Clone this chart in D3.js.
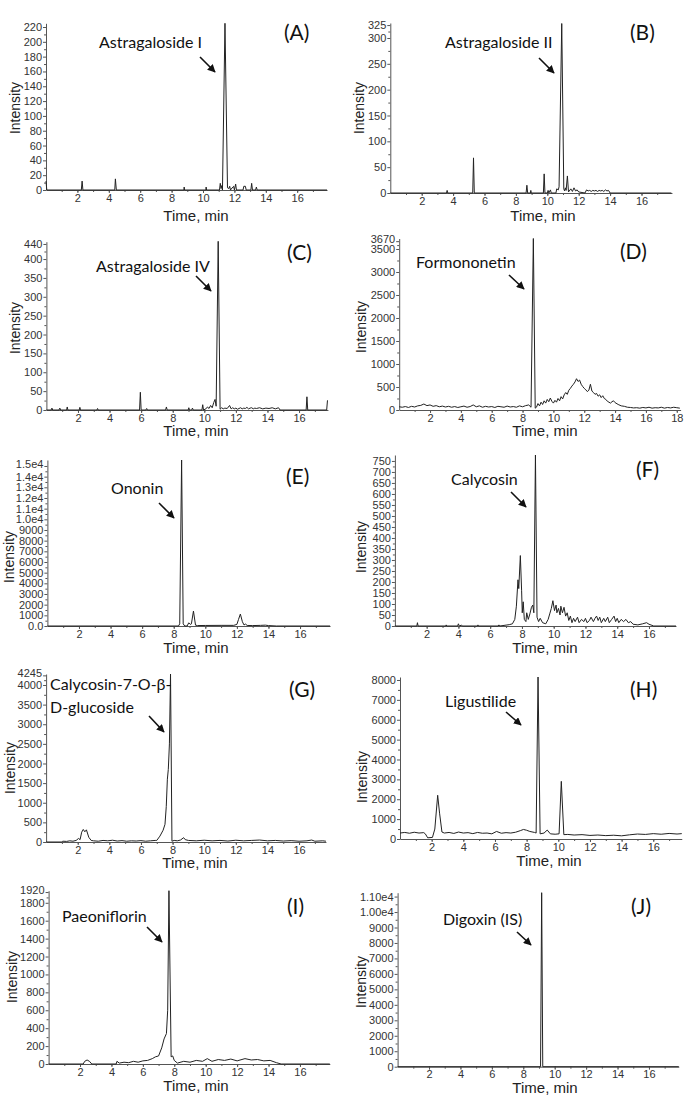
<!DOCTYPE html>
<html>
<head>
<meta charset="utf-8">
<script src="https://cdn.jsdelivr.net/npm/d3@7/dist/d3.min.js"></script>
<style>
  body { margin: 0; background: #fff; }
  .tick text { font-family: "Liberation Sans", Arial, sans-serif; font-size: 11px; fill: #333; }
  .domain, .tick line { stroke: #555; }
</style>
</head>
<body>
<script>
// chromatogram traces: [time (min), intensity]
var traceA = [[0,12],[0.05,0],[2.25,0],[2.3,12],[2.35,0],[4.38,0],[4.42,15],[4.48,0],[8.78,0],[8.8,4],[8.83,0],
  [10.18,0],[10.2,4],[10.23,0],[11.05,0],[11.1,9],[11.15,2],[11.2,6],[11.24,0],[11.4,225],[11.56,3],[11.65,2],
  [11.7,5],[11.75,0],[11.9,4],[11.95,5],[12.0,0],[12.08,8],[12.13,0],[12.55,0],[12.6,5],[12.7,5],[12.75,0],
  [13.05,0],[13.1,9],[13.15,0],[13.35,0],[13.4,4],[13.45,0],[17.9,0]];
var traceB = [[0,0],[3.58,0],[3.62,5],[3.66,0],[5.25,0],[5.3,68],[5.35,0],[8.65,0],[8.7,15],[8.75,0],[8.92,0],
  [8.95,5],[8.98,0],[9.75,0],[9.8,37],[9.85,0],[10.0,0],[10.05,5],[10.1,0],[10.2,6],[10.25,0],[10.55,0],[10.6,8],
  [10.7,6],[10.75,12],[10.92,328],[11.05,8],[11.1,4],[11.15,10],[11.2,5],[11.28,33],[11.35,2],[11.5,8],[11.6,3],
  [11.7,10],[11.8,4],[11.9,6],[12.0,2],[12.4,0],[12.5,6],[12.6,4],[12.7,5],[12.8,3],[12.9,5],[13.0,4],[13.1,5],
  [13.2,3],[13.3,5],[13.4,4],[13.5,5],[13.6,3],[13.7,6],[13.8,4],[13.9,5],[14.0,0],[17.9,0]];
var traceC = [[0,0],[0.3,0],[0.35,5],[0.4,0],[0.8,0],[0.85,5],[0.9,0],[1.28,0],[1.32,8],[1.36,0],[2.08,0],[2.12,7],
  [2.16,0],[3.2,0],[3.24,4],[3.28,0],[5.9,0],[5.95,47],[6.0,0],[6.3,0],[6.35,4],[6.4,0],[7.55,0],[7.6,8],[7.65,0],
  [8.98,0],[9.02,6],[9.06,0],[9.2,0],[9.25,5],[9.3,0],[9.85,0],[9.9,14],[9.95,0],[10.1,3],[10.2,8],[10.3,4],
  [10.4,12],[10.5,6],[10.6,20],[10.68,28],[10.75,10],[10.88,447],[11.0,2],[11.1,6],[11.2,3],[11.3,5],[11.45,4],
  [11.6,12],[11.7,3],[11.8,6],[11.9,3],[12.0,5],[12.1,2],[12.3,6],[12.4,3],[12.5,5],[12.6,4],[12.7,7],[12.8,3],
  [12.9,5],[13.0,6],[13.1,3],[13.2,5],[13.3,4],[13.5,6],[13.7,3],[13.9,5],[14.1,4],[14.3,6],[14.5,3],[14.7,6],
  [14.8,0],[16.45,0],[16.5,35],[16.55,0],[17.75,0],[17.8,25],[17.83,25]];
var traceD = [[0,70],[0.2,60],[0.4,75],[0.6,55],[0.8,80],[1.0,65],[1.2,90],[1.4,100],[1.6,130],[1.8,95],[2.0,110],
  [2.2,80],[2.4,95],[2.6,70],[2.8,85],[3.0,65],[3.2,80],[3.4,60],[3.6,75],[3.8,55],[4.0,70],[4.2,85],[4.4,60],
  [4.6,75],[4.8,110],[5.0,70],[5.2,90],[5.4,60],[5.6,80],[5.8,65],[6.0,75],[6.2,55],[6.4,80],[6.6,70],[6.8,60],
  [7.0,85],[7.2,65],[7.4,75],[7.6,60],[7.8,90],[8.0,70],[8.2,95],[8.4,110],[8.55,60],[8.7,3728],[8.82,40],[8.9,60],
  [9.0,140],[9.1,90],[9.2,170],[9.3,120],[9.4,200],[9.5,150],[9.6,230],[9.7,180],[9.8,260],[9.9,190],[10.0,150],
  [10.1,210],[10.2,170],[10.3,250],[10.4,200],[10.5,290],[10.6,240],[10.7,330],[10.8,380],[10.9,340],[11.0,430],
  [11.1,470],[11.2,520],[11.3,560],[11.4,610],[11.5,680],[11.6,620],[11.7,650],[11.8,560],[11.9,510],[12.0,470],
  [12.1,440],[12.2,400],[12.3,430],[12.4,560],[12.5,410],[12.6,380],[12.7,340],[12.8,360],[12.9,300],[13.0,330],
  [13.1,270],[13.2,310],[13.3,250],[13.4,230],[13.5,190],[13.6,170],[13.7,150],[13.8,180],[13.9,200],[14.0,160],
  [14.2,120],[14.4,90],[14.6,80],[14.8,60],[15.0,55],[15.2,45],[15.4,50],[15.6,40],[15.8,55],[16.0,45],[16.2,60],
  [16.4,40],[16.6,50],[16.8,45],[17.0,60],[17.2,40],[17.4,55],[17.6,45],[17.8,60],[18.0,50],[18.2,40]];
var traceE = [[0,0],[8.3,0],[8.38,200],[8.5,15560],[8.6,200],[8.7,0],[8.85,0],[8.95,300],[9.05,150],[9.12,200],
  [9.25,1400],[9.38,80],[9.5,40],[10,50],[11,60],[11.8,60],[12.0,150],[12.1,600],[12.22,1120],[12.35,400],
  [12.45,100],[12.55,180],[12.65,50],[13,40],[13.5,60],[13.8,80],[14,40],[14.5,0],[17.9,0]];
var traceF = [[0,0],[1.38,0],[1.42,15],[1.46,0],[3.2,0],[3.23,5],[3.26,0],[3.95,0],[4.0,10],[4.05,0],[4.2,4],[4.25,0],
  [5.2,0],[5.23,5],[5.26,0],[6.5,0],[6.55,5],[6.6,0],[7.0,4],[7.2,6],[7.4,10],[7.55,30],[7.65,90],[7.75,210],
  [7.8,170],[7.9,320],[7.98,160],[8.02,60],[8.08,110],[8.15,30],[8.25,20],[8.3,60],[8.4,30],[8.5,55],[8.6,85],
  [8.68,95],[8.75,60],[8.85,777],[8.95,40],[9.05,20],[9.15,35],[9.3,15],[9.5,10],[9.65,30],[9.75,55],[9.85,80],
  [9.95,115],[10.05,70],[10.15,95],[10.2,60],[10.3,80],[10.4,50],[10.45,90],[10.55,60],[10.65,85],[10.75,45],
  [10.85,60],[10.95,25],[11.05,45],[11.15,15],[11.25,35],[11.35,20],[11.5,40],[11.6,15],[11.75,30],[11.9,20],
  [12.0,35],[12.1,15],[12.25,25],[12.35,40],[12.5,20],[12.6,35],[12.7,45],[12.8,25],[12.9,40],[13.0,15],[13.15,35],
  [13.25,20],[13.4,40],[13.5,15],[13.65,30],[13.8,45],[13.9,20],[14.0,35],[14.1,15],[14.25,30],[14.4,20],[14.55,30],
  [14.7,15],[14.85,20],[15.0,8],[15.3,5],[15.6,10],[15.85,15],[16.0,8],[16.3,0],[17.7,0]];
var traceG = [[0,0],[1.0,0],[1.05,20],[1.3,15],[1.5,30],[1.7,20],[1.9,40],[2.05,90],[2.15,60],[2.25,250],[2.35,320],
  [2.45,260],[2.55,310],[2.7,120],[2.85,40],[3.0,30],[3.3,20],[3.6,40],[3.9,30],[4.2,45],[4.5,25],[4.8,35],[5.1,20],
  [5.4,30],[5.7,25],[6.0,35],[6.3,20],[6.6,30],[6.9,40],[7.0,40],[7.2,150],[7.4,300],[7.52,450],[7.6,900],
  [7.67,1600],[7.73,1850],[7.8,2500],[7.87,4280],[7.96,20],[8.1,40],[8.3,30],[8.5,50],[8.7,110],[8.8,60],[9.0,40],
  [9.5,30],[10.0,45],[10.5,30],[11.0,40],[11.5,25],[12.0,45],[12.5,30],[13.0,40],[13.5,50],[14.0,30],[14.5,40],
  [15.0,25],[15.5,35],[16.0,20],[16.5,30],[16.8,50],[17.0,20],[17.5,30],[17.7,20]];
var traceH = [[0,300],[0.3,330],[0.6,290],[0.9,340],[1.2,300],[1.5,320],[1.6,260],[1.75,60],[2.05,80],[2.2,500],
  [2.38,2200],[2.5,1300],[2.65,350],[2.8,300],[3.1,330],[3.4,280],[3.7,350],[4.0,300],[4.3,320],[4.6,270],[4.9,330],
  [5.2,290],[5.5,300],[5.8,260],[6.1,380],[6.4,290],[6.7,320],[7.0,300],[7.3,340],[7.6,420],[7.8,480],[8.0,440],
  [8.2,380],[8.5,330],[8.6,300],[8.72,8150],[8.85,260],[9.1,300],[9.3,450],[9.5,260],[9.8,240],[10.05,260],
  [10.19,2900],[10.35,220],[10.6,230],[11.0,200],[11.5,220],[12.0,180],[12.5,200],[13.0,170],[13.5,190],[14.0,160],
  [14.5,210],[15.0,250],[15.5,230],[16.0,270],[16.5,240],[17.0,280],[17.5,250],[17.8,270]];
var traceI = [[0,0],[2.2,0],[2.3,30],[2.45,45],[2.6,30],[2.75,0],[4.3,0],[4.35,30],[4.5,10],[4.8,20],[5.1,15],
  [5.4,30],[5.7,20],[6.0,35],[6.3,40],[6.6,60],[6.8,80],[7.0,90],[7.2,180],[7.35,280],[7.5,340],[7.58,600],
  [7.66,1935],[7.8,80],[7.9,90],[8.0,40],[8.2,10],[8.6,30],[9.0,20],[9.4,40],[9.8,30],[10.1,60],[10.4,30],[10.8,50],
  [11.2,40],[11.6,55],[12.0,35],[12.5,60],[12.9,45],[13.3,50],[13.7,35],[14.1,40],[14.5,15],[14.8,0],[17.9,0]];
var traceJ = [[0,0],[9.1,0],[9.17,11250],[9.24,0],[17.9,0]];

// tick values and labels
var yTicksA = [0,20,40,60,80,100,120,140,160,180,200,220];
var yTicksB = [0,50,100,150,200,250,300,325];
var yTicksC = [0,50,100,150,200,250,300,350,400,440];
var yTicksD = [0,500,1000,1500,2000,2500,3000,3500,3670];
var yTicksE = [0,1000,2000,3000,4000,5000,6000,7000,8000,9000,10000,11000,12000,13000,14000,15000];
var yLabelsE = ["0.0","1000","2000","3000","4000","5000","6000","7000","8000","9000",
                "1.0e4","1.1e4","1.2e4","1.3e4","1.4e4","1.5e4"];
var yTicksF = [0,50,100,150,200,250,300,350,400,450,500,550,600,650,700,750];
var yTicksG = [0,500,1000,1500,2000,2500,3000,3500,4000,4245];
var yTicksH = [0,1000,2000,3000,4000,5000,6000,7000,8000];
var yTicksI = [0,200,400,600,800,1000,1200,1400,1600,1800,1920];
var yTicksJ = [0,1000,2000,3000,4000,5000,6000,7000,8000,9000,10000,11000];
var yLabelsJ = ["0","1000","2000","3000","4000","5000","6000","7000","8000","9000","1.00e4","1.10e4"];
var xTicks = [2,4,6,8,10,12,14,16];
var xTicksD = [2,4,6,8,10,12,14,16,18];

var letters = ["(A)","(B)","(C)","(D)","(E)","(F)","(G)","(H)","(I)","(J)"];
var compounds = [["Astragaloside I"],["Astragaloside II"],["Astragaloside IV"],["Formononetin"],["Ononin"],
  ["Calycosin"],["Calycosin-7-O-β-","D-glucoside"],["Ligustilide"],["Paeoniflorin"],["Digoxin (IS)"]];

var traces = [traceA,traceB,traceC,traceD,traceE,traceF,traceG,traceH,traceI,traceJ];
var yTicks = [yTicksA,yTicksB,yTicksC,yTicksD,yTicksE,yTicksF,yTicksG,yTicksH,yTicksI,yTicksJ];
var yLabels = [null,null,null,null,yLabelsE,null,null,null,null,yLabelsJ];

// panel frames (px): x0, px per min, x max, y bottom, y top, y max
var frames = [
  {x0:46,   ppm:15.7,  xmax:17.9,  b:190,    t:23.3,  ymax:225,   lab:15,  laby:108, tx:196, ty:221},
  {x0:390.3,ppm:15.7,  xmax:17.94, b:193,    t:23,    ymax:329,   lab:359, laby:108, tx:543, ty:221},
  {x0:46.4, ppm:15.79, xmax:17.83, b:410,    t:241.7, ymax:446,   lab:15,  laby:328, tx:196, ty:436},
  {x0:399.2,ppm:15.42, xmax:18.25, b:410,    t:238.5, ymax:3728,  lab:361, laby:327, tx:545, ty:436},
  {x0:47.4, ppm:15.79, xmax:17.9,  b:626,    t:460,   ymax:15560, lab:9,   laby:557, tx:196, ty:653},
  {x0:394.9,ppm:15.88, xmax:17.7,  b:626,    t:455,   ymax:777,   lab:361, laby:547, tx:545, ty:653},
  {x0:46.1, ppm:15.81, xmax:17.7,  b:842,    t:674,   ymax:4280,  lab:10,  laby:768, tx:195, ty:868},
  {x0:400,  ppm:15.83, xmax:17.8,  b:839,    t:677,   ymax:8150,  lab:362, laby:777, tx:549, ty:866},
  {x0:48.6, ppm:15.71, xmax:17.9,  b:1064,   t:890.7, ymax:1935,  lab:12,  laby:977, tx:196, ty:1091},
  {x0:397.6,ppm:15.71, xmax:17.9,  b:1066.7, t:892.7, ymax:11250, lab:361, laby:982, tx:545, ty:1093}
];
// annotation positions: name x, name baseline, letter x, letter baseline, arrow
var notes = [
  {nx:99,  ny:48,  lx:284, ly:40,  a:[200,57,215,72]},
  {nx:445, ny:48,  lx:630, ly:40,  a:[539,58,554,73]},
  {nx:96,  ny:272, lx:287, ly:260, a:[196,276,211,291]},
  {nx:416, ny:268, lx:620, ly:259, a:[509,275,524,289]},
  {nx:111, ny:494, lx:286, ly:484, a:[159,503,174,518]},
  {nx:451, ny:485, lx:636, ly:477, a:[511,492,526,507]},
  {nx:50,  ny:690, lx:289, ly:697, a:[149,716,164,732]},
  {nx:445, ny:707, lx:630, ly:697, a:[506,712,521,725]},
  {nx:62,  ny:922, lx:287, ly:914, a:[147,927,162,942]},
  {nx:443, ny:925, lx:631, ly:914, a:[517,932,531,945]}
];

var svg = d3.select("body").append("svg")
  .attr("width", 688).attr("height", 1095);

svg.append("defs").append("marker")
  .attr("id", "head").attr("viewBox", "0 0 10 10")
  .attr("refX", 9).attr("refY", 5)
  .attr("markerWidth", 5).attr("markerHeight", 5)
  .attr("orient", "auto")
  .append("path").attr("d", "M0,0 L10,5 L0,10 z").attr("fill", "#111");

traces.forEach(function(trace, i) {
  var f = frames[i], n = notes[i];
  var x = d3.scaleLinear().domain([0, f.xmax]).range([f.x0, f.x0 + f.xmax * f.ppm]);
  var y = d3.scaleLinear().domain([0, f.ymax]).range([f.b, f.t]);
  var g = svg.append("g");

  var tv = yTicks[i], tl = yLabels[i];
  var minor = [];
  for (var k = 0; k < tv.length - 1; k++) minor.push((tv[k] + tv[k + 1]) / 2);

  g.append("g").attr("transform", "translate(0," + f.b + ")")
    .call(d3.axisBottom(x).tickValues(d3.range(1, Math.floor(f.xmax) + 1)).tickSize(2).tickFormat(""))
    .call(function(s) { s.select(".domain").remove(); });
  g.append("g").attr("transform", "translate(0," + f.b + ")")
    .call(d3.axisBottom(x).tickValues(i == 3 ? xTicksD : xTicks).tickSize(3).tickPadding(1).tickSizeOuter(0));
  g.append("g").attr("transform", "translate(" + f.x0 + ",0)")
    .call(d3.axisLeft(y).tickValues(minor).tickSize(2).tickFormat(""))
    .call(function(s) { s.select(".domain").remove(); });
  var ya = g.append("g").attr("transform", "translate(" + f.x0 + ",0)")
    .call(d3.axisLeft(y).tickValues(tv).tickSize(3).tickPadding(1).tickSizeOuter(0)
      .tickFormat(function(d, j) { return tl ? tl[j] : d; }));
  // squeeze the odd top value a little upward, as in the reference
  var last = tv[tv.length - 1], prev = tv[tv.length - 2];
  if (y(prev) - y(last) < 11) {
    ya.selectAll(".tick text").filter(function(d) { return d === last; })
      .attr("dy", "0.1em").attr("font-size", "10px");
  }

  g.append("path").datum(trace)
    .attr("fill", "none").attr("stroke", "#222").attr("stroke-width", 1)
    .attr("d", d3.line().x(function(d) { return x(d[0]); }).y(function(d) { return y(d[1]); }));

  g.append("text").attr("transform", "translate(" + (f.lab + 5) + "," + f.laby + ") rotate(-90)")
    .attr("text-anchor", "middle")
    .attr("font-family", "Liberation Sans, Arial, sans-serif").attr("font-size", "14px").attr("fill", "#222")
    .text("Intensity");
  g.append("text").attr("x", f.tx).attr("y", f.ty).attr("text-anchor", "middle")
    .attr("font-family", "Liberation Sans, Arial, sans-serif").attr("font-size", "15px").attr("fill", "#222")
    .text("Time, min");

  compounds[i].forEach(function(line, j) {
    g.append("text").attr("x", n.nx).attr("y", n.ny + j * 23)
      .attr("font-family", "Lato, sans-serif").attr("font-size", "16px").attr("fill", "#111")
      .text(line);
  });
  g.append("text").attr("x", n.lx).attr("y", n.ly)
    .attr("font-family", "Lato, sans-serif").attr("font-size", "21px").attr("fill", "#111")
    .text(letters[i]);
  g.append("line").attr("x1", n.a[0]).attr("y1", n.a[1]).attr("x2", n.a[2]).attr("y2", n.a[3])
    .attr("stroke", "#111").attr("stroke-width", 1.6).attr("marker-end", "url(#head)");
});
</script>
</body>
</html>
